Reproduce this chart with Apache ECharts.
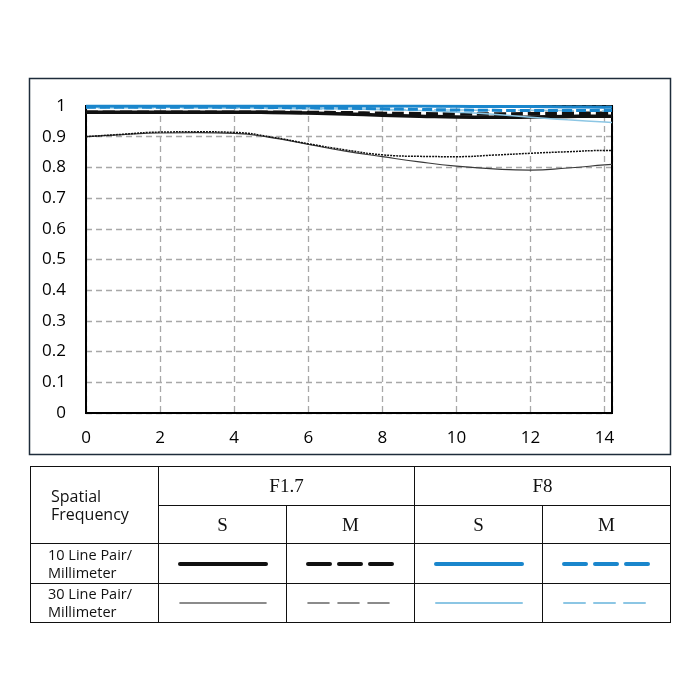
<!DOCTYPE html>
<html>
<head>
<meta charset="utf-8">
<script src="https://cdn.jsdelivr.net/npm/echarts@6/dist/echarts.min.js"></script>
<style>
  body { margin: 0; background: #fff; }
  #wrap { position: relative; width: 700px; height: 700px; }
  #mtfChart { position: absolute; left: 0; top: 0; width: 700px; height: 700px; }
  #legendTable {
    position: absolute; left: 30px; top: 466px; width: 640px;
    border-collapse: collapse; table-layout: fixed;
  }
  #legendTable td { border: 1.5px solid #111; padding: 0; text-align: center; color: #111; }
  .serif { font-family: "Liberation Serif", "DejaVu Serif", serif; font-size: 19px; }
  .sans { font-family: "Open Sans", "Noto Sans", sans-serif; text-align: left !important; }
</style>
</head>
<body>
<div id="wrap">
  <div id="mtfChart"></div>
  <table id="legendTable">
    <colgroup><col style="width:128px"><col style="width:128px"><col style="width:128px"><col style="width:128px"><col style="width:128px"></colgroup>
    <tr style="height:39px">
      <td rowspan="2" class="sans" style="font-size:16px;line-height:18px;padding-left:20px">Spatial<br>Frequency</td>
      <td colspan="2" class="serif">F1.7</td>
      <td colspan="2" class="serif">F8</td>
    </tr>
    <tr style="height:38px">
      <td class="serif">S</td><td class="serif">M</td><td class="serif">S</td><td class="serif">M</td>
    </tr>
    <tr style="height:40px">
      <td class="sans" style="font-size:14.5px;line-height:18px;padding-left:17px">10 Line Pair/<br>Millimeter</td>
      <td id="k1"></td><td id="k2"></td><td id="k3"></td><td id="k4"></td>
    </tr>
    <tr style="height:39px">
      <td class="sans" style="font-size:14.5px;line-height:18px;padding-left:17px">30 Line Pair/<br>Millimeter</td>
      <td id="k5"></td><td id="k6"></td><td id="k7"></td><td id="k8"></td>
    </tr>
  </table>
</div>
<script>
// spatial position (mm from center)
const xValues = [0, 1, 2, 3, 4, 5, 6, 7, 8, 9, 10, 11, 12, 13, 14, 14.2];
// MTF values
const f17_10S = [0.98, 0.98, 0.98, 0.98, 0.98, 0.979, 0.977, 0.974, 0.97, 0.967, 0.964, 0.963, 0.964, 0.966, 0.967, 0.967];
const f17_10M = [0.98, 0.98, 0.98, 0.98, 0.98, 0.98, 0.979, 0.978, 0.976, 0.975, 0.974, 0.974, 0.975, 0.976, 0.976, 0.976];
const f17_30S = [0.9, 0.907, 0.912, 0.913, 0.911, 0.897, 0.875, 0.853, 0.835, 0.818, 0.804, 0.795, 0.791, 0.798, 0.808, 0.81];
const f17_30M = [0.9, 0.908, 0.915, 0.916, 0.914, 0.899, 0.877, 0.857, 0.841, 0.836, 0.835, 0.84, 0.846, 0.851, 0.855, 0.855];
const f8_10S = [1, 1, 1, 1, 1, 1, 1, 1, 1, 1, 0.999, 0.998, 0.998, 0.997, 0.996, 0.996];
const f8_10M = [0.996, 0.996, 0.996, 0.996, 0.996, 0.995, 0.994, 0.993, 0.991, 0.989, 0.987, 0.986, 0.985, 0.985, 0.985, 0.985];
const f8_30S = [0.995, 0.995, 0.995, 0.995, 0.994, 0.993, 0.992, 0.99, 0.988, 0.985, 0.98, 0.973, 0.963, 0.955, 0.948, 0.946];
const f8_30M = [0.994, 0.994, 0.994, 0.994, 0.993, 0.992, 0.991, 0.99, 0.989, 0.988, 0.987, 0.986, 0.986, 0.985, 0.984, 0.984];

const BLACK = "#111111";
const GRAY = "#3a3a3a";
const BLUE = "#1a86cc";
const LIGHT_BLUE = "#8cc6e4";

function pairs(ys) {
  return xValues.map((x, i) => [x, ys[i]]);
}
function line(name, ys, color, width, type) {
  return {
    name: name,
    type: "line",
    data: pairs(ys),
    smooth: true,
    showSymbol: false,
    lineStyle: { color: color, width: width, type: type },
  };
}

const chart = echarts.init(document.getElementById("mtfChart"));
const gridDash = { color: "#a8a8a8", width: 1.3, type: [6, 4] };
chart.setOption({
  animation: false,
  grid: {
    left: 86, right: 88, top: 106, bottom: 287,
    show: true, borderColor: "#000", borderWidth: 2,
  },
  xAxis: {
    type: "value",
    min: 0, max: 14.2, interval: 2,
    axisLine: { lineStyle: { color: "#000", width: 2 } },
    axisTick: { show: false },
    axisLabel: {
      color: "#000", fontSize: 17, fontFamily: "Open Sans", margin: 17,
      formatter: (v) => (v % 2 === 0 ? String(v) : ""),
    },
    splitLine: { show: true, lineStyle: gridDash },
  },
  yAxis: [
    {
      type: "value",
      min: 0, max: 1, interval: 0.1,
      axisLine: { show: true, lineStyle: { color: "#000", width: 2 } },
      axisTick: { show: false },
      axisLabel: {
        color: "#000", fontSize: 17, fontFamily: "Open Sans", margin: 20,
        formatter: (v) => String(Math.round(v * 10) / 10),
      },
      splitLine: { show: true, lineStyle: gridDash },
    },
    {
      // right frame line
      type: "value", position: "right",
      min: 0, max: 1, interval: 0.1,
      axisLine: { show: true, lineStyle: { color: "#000", width: 2 } },
      axisTick: { show: false },
      axisLabel: { show: false },
      splitLine: { show: false },
    },
  ],
  graphic: [{
    type: "rect",
    shape: { x: 29.5, y: 78.5, width: 641, height: 376 },
    style: { fill: null, stroke: "#1e2c3b", lineWidth: 1.5 },
    silent: true,
  }],
  series: [
    line("F1.7 30 S", f17_30S, GRAY, 1.2, "solid"),
    line("F1.7 30 M", f17_30M, BLACK, 1.5, [2, 1]),
    line("F1.7 10 S", f17_10S, BLACK, 3.5, "solid"),
    line("F1.7 10 M", f17_10M, BLACK, 3.5, [12, 5]),
    line("F8 30 S", f8_30S, LIGHT_BLUE, 1.5, "solid"),
    line("F8 30 M", f8_30M, LIGHT_BLUE, 1.5, [8, 4]),
    line("F8 10 S", f8_10S, BLUE, 3, "solid"),
    line("F8 10 M", f8_10M, BLUE, 3, [10, 4]),
  ],
});

// legend samples inside the table
function sample(id, color, width, dash) {
  const svg = '<svg width="92" height="10" style="display:block;margin:0 auto">' +
    '<line x1="3" y1="5" x2="89" y2="5" stroke="' + color + '" stroke-width="' + width +
    '" stroke-linecap="round"' + (dash ? ' stroke-dasharray="' + dash + '"' : "") + "/></svg>";
  document.getElementById(id).innerHTML = svg;
}
sample("k1", BLACK, 4, null);
sample("k2", BLACK, 4, "22 9");
sample("k3", BLUE, 4, null);
sample("k4", BLUE, 4, "22 9");
sample("k5", "#666", 1.6, null);
sample("k6", "#666", 1.6, "21 9");
sample("k7", LIGHT_BLUE, 2, null);
sample("k8", LIGHT_BLUE, 2, "21 9");
window.addEventListener("resize", () => chart.resize());
</script>
</body>
</html>
